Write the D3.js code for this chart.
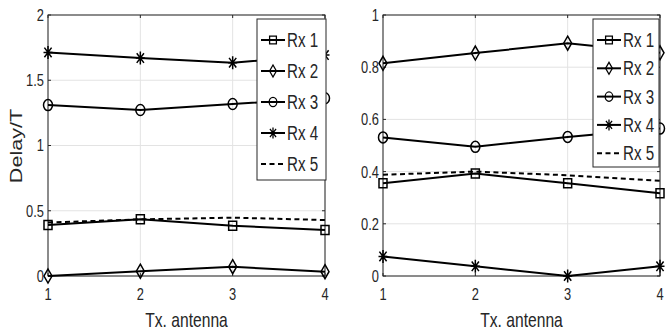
<!DOCTYPE html>
<html>
<head>
<meta charset="utf-8">
<script src="https://d3js.org/d3.v7.min.js"></script>
<style>
  body { margin: 0; background: #fff; }
  svg text { font-family: "Liberation Sans", Arial, sans-serif; fill: #262626; }
</style>
</head>
<body>
<div id="chart"></div>
<script>
var txAntenna = [1, 2, 3, 4];
var rxNames = ["Rx 1", "Rx 2", "Rx 3", "Rx 4", "Rx 5"];
var rxMarkers = ["square", "diamond", "circle", "star", "none"];

// left panel values (Delay/T)
var rx1Left = [0.390, 0.434, 0.385, 0.352];
var rx2Left = [0.000, 0.037, 0.071, 0.033];
var rx3Left = [1.310, 1.272, 1.318, 1.362];
var rx4Left = [1.713, 1.670, 1.635, 1.693];
var rx5Left = [0.410, 0.434, 0.447, 0.429];
var leftTicks = [0, 0.5, 1, 1.5, 2];
var leftTickLabels = ["0", "0.5", "1", "1.5", "2"];

// right panel values
var rx1Right = [0.355, 0.393, 0.355, 0.317];
var rx2Right = [0.815, 0.854, 0.892, 0.855];
var rx3Right = [0.531, 0.495, 0.533, 0.565];
var rx4Right = [0.075, 0.037, 0.000, 0.037];
var rx5Right = [0.388, 0.400, 0.386, 0.365];
var rightTicks = [0, 0.2, 0.4, 0.6, 0.8, 1];
var rightTickLabels = ["0", "0.2", "0.4", "0.6", "0.8", "1"];

var W = 667, H = 332;

var svg = d3.select("#chart").append("svg")
  .attr("width", W)
  .attr("height", H);

function markerPath(type) {
  if (type == "square") return "M-4,-4.5L4,-4.5L4,4.5L-4,4.5Z";
  if (type == "diamond") return "M0,-7L4,0L0,7L-4,0Z";
  if (type == "circle") return "M-4.5,0A4.5,5.5 0 1,0 4.5,0A4.5,5.5 0 1,0 -4.5,0Z";
  if (type == "star") return "M0,-6.5L0,6.5M-4.5,0L4.5,0M-3.6,-4.8L3.6,4.8M-3.6,4.8L3.6,-4.8";
  return null;
}

// the source figure is stretched vertically, so its text looks tall and narrow
function tallText(sel, px, py) {
  return sel.attr("transform", "translate(" + px + "," + py + ") scale(0.92,1.17)");
}

function drawPanel(opts) {
  var x = d3.scaleLinear().domain([1, 4]).range([opts.left, opts.right]);
  var y = d3.scaleLinear().domain(opts.domain).range([276, 15]);
  var g = svg.append("g");

  // grid
  g.selectAll(".gx").data(txAntenna).enter().append("line")
    .attr("x1", function(d){ return x(d); }).attr("x2", function(d){ return x(d); })
    .attr("y1", y.range()[0]).attr("y2", y.range()[1])
    .attr("stroke", "#e3e3e3").attr("stroke-width", 1);
  g.selectAll(".gy").data(opts.ticks).enter().append("line")
    .attr("x1", opts.left).attr("x2", opts.right)
    .attr("y1", function(d){ return y(d); }).attr("y2", function(d){ return y(d); })
    .attr("stroke", "#e3e3e3").attr("stroke-width", 1);

  // box
  g.append("rect")
    .attr("x", opts.left).attr("y", 15)
    .attr("width", opts.right - opts.left).attr("height", 261)
    .attr("fill", "none").attr("stroke", "#262626").attr("stroke-width", 1);

  // tick marks (inward, both sides)
  g.selectAll(".ty").data(opts.ticks).enter().append("path")
    .attr("d", function(d){
      return "M" + opts.left + "," + y(d) + "h3M" + opts.right + "," + y(d) + "h-3";
    })
    .attr("stroke", "#262626");
  g.selectAll(".tx").data(txAntenna).enter().append("path")
    .attr("d", function(d){
      return "M" + x(d) + ",276v-3M" + x(d) + ",15v3";
    })
    .attr("stroke", "#262626");

  // tick labels
  g.selectAll(".ly").data(opts.ticks).enter().append("text")
    .each(function(d){ tallText(d3.select(this), opts.left - 4, y(d)); })
    .attr("dy", "0.36em")
    .attr("text-anchor", "end")
    .attr("font-size", 14)
    .text(function(d, i){ return opts.tickLabels[i]; });
  g.selectAll(".lx").data(txAntenna).enter().append("text")
    .each(function(d){ tallText(d3.select(this), x(d), 300); })
    .attr("text-anchor", "middle")
    .attr("font-size", 14)
    .text(function(d){ return d; });

  tallText(g.append("text"), (opts.left + opts.right) / 2, 327)
    .attr("text-anchor", "middle")
    .attr("font-size", 17)
    .text("Tx. antenna");

  // series
  var line = d3.line()
    .x(function(d, i){ return x(txAntenna[i]); })
    .y(function(d){ return y(d); });

  opts.series.forEach(function(vals, k){
    g.append("path")
      .attr("d", line(vals))
      .attr("fill", "none")
      .attr("stroke", "#000")
      .attr("stroke-width", 2)
      .attr("stroke-dasharray", rxMarkers[k] == "none" ? "5,3.5" : null);
    if (rxMarkers[k] != "none") {
      g.selectAll(".m" + k).data(vals).enter().append("path")
        .attr("transform", function(d, i){ return "translate(" + x(txAntenna[i]) + "," + y(d) + ")"; })
        .attr("d", markerPath(rxMarkers[k]))
        .attr("fill", "none")
        .attr("stroke", "#000")
        .attr("stroke-width", 1.5);
    }
  });

  // legend
  var lg = svg.append("g");
  lg.append("rect")
    .attr("x", opts.legX).attr("y", 19)
    .attr("width", opts.legW).attr("height", opts.legH)
    .attr("fill", "#fff").attr("stroke", "#262626").attr("stroke-width", 1);
  rxNames.forEach(function(name, k){
    var ry = opts.legRow0 + k * opts.legStep;
    lg.append("line")
      .attr("x1", opts.legX + 4).attr("x2", opts.legX + 28)
      .attr("y1", ry).attr("y2", ry)
      .attr("stroke", "#000").attr("stroke-width", 2)
      .attr("stroke-dasharray", rxMarkers[k] == "none" ? "5,3.5" : null);
    if (rxMarkers[k] != "none") {
      lg.append("path")
        .attr("transform", "translate(" + (opts.legX + 16) + "," + ry + ") scale(0.85)")
        .attr("d", markerPath(rxMarkers[k]))
        .attr("fill", "none").attr("stroke", "#000").attr("stroke-width", 1.5);
    }
    tallText(lg.append("text"), opts.legX + 30, ry)
      .attr("dy", "0.36em")
      .attr("font-size", 16.5)
      .text(name);
  });
}

drawPanel({
  left: 48, right: 325,
  domain: [0, 2],
  ticks: leftTicks, tickLabels: leftTickLabels,
  series: [rx1Left, rx2Left, rx3Left, rx4Left, rx5Left],
  legX: 257, legW: 69, legH: 161, legRow0: 40, legStep: 31
});

drawPanel({
  left: 383, right: 660,
  domain: [0, 1],
  ticks: rightTicks, tickLabels: rightTickLabels,
  series: [rx1Right, rx2Right, rx3Right, rx4Right, rx5Right],
  legX: 593, legW: 66, legH: 148, legRow0: 40, legStep: 28.3
});

// y label, stretched along its length like the source figure
svg.append("text")
  .attr("transform", "translate(22,146) rotate(-90) scale(1.35,1)")
  .attr("text-anchor", "middle")
  .attr("font-size", 16)
  .text("Delay/T");
</script>
</body>
</html>
